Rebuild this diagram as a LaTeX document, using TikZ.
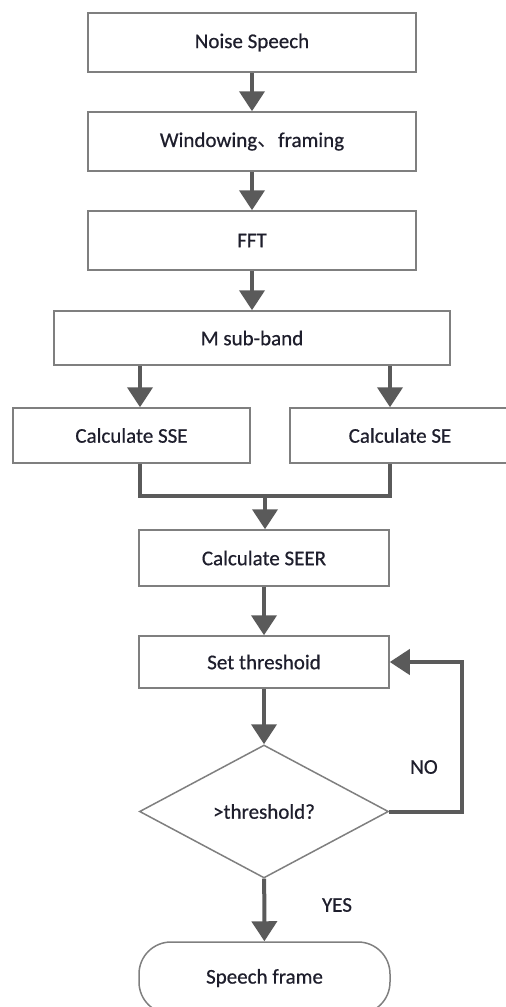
\documentclass[tikz,border=0pt]{standalone}
\usepackage{fontspec}
\setmainfont{Carlito}[FakeBold=0.6]
\newfontfamily\cjk{Noto Sans CJK SC}
\usetikzlibrary{arrows.meta,shapes.geometric}
\definecolor{ln}{HTML}{5A5A5A}
\definecolor{bd}{HTML}{7F7F7F}
\definecolor{tx}{HTML}{1E1E2C}
\begin{document}
\begin{tikzpicture}[x=1pt,y=-1pt,
  box/.style={draw=bd,line width=1.5pt,inner sep=0pt,font=\fontsize{21}{24}\selectfont,text=tx},
  lbl/.style={inner sep=0pt,font=\fontsize{21}{24}\selectfont,text=tx},
  conn/.style={draw=ln,line width=4pt},
  arr/.style={conn,-{Triangle[width=25pt,length=20pt]}}]
\useasboundingbox (0,0) rectangle (506,1007);
\node[box,minimum width=328pt,minimum height=59pt] (n1) at (252,42.5) {Noise Speech};
\node[box,minimum width=328pt,minimum height=59pt] (n2) at (252,141.5) {Windowing{\cjk 、}framing};
\node[box,minimum width=328pt,minimum height=59pt] (n3) at (252,240.5) {FFT};
\node[box,minimum width=396pt,minimum height=54pt] (n4) at (252,338) {M sub-band};
\node[box,minimum width=237pt,minimum height=55pt] (sse) at (131.5,435.5) {Calculate SSE};
\node[box,minimum width=220pt,minimum height=55pt] (se) at (400,435.5) {Calculate SE};
\node[box,minimum width=250pt,minimum height=56pt] (seer) at (264,558) {Calculate SEER};
\node[box,minimum width=250pt,minimum height=52pt] (thr) at (264,662) {Set threshoid};
\node[box,shape=diamond,minimum width=249pt,minimum height=133pt] (dia) at (264,811.5) {>threshold?};
\node[box,rounded corners=32pt,minimum width=251pt,minimum height=72pt] (term) at (264.5,978) {Speech frame};
\node[lbl] (no) at (424,767) {NO};
\node[lbl] (yes) at (337,905) {YES};
\coordinate (cL) at (140,0);
\coordinate (cR) at (390,0);
\coordinate (cM) at (265,0);
\coordinate (cJ) at (0,496);
\coordinate (cLoop) at (462,0);
\draw[arr] (n1) -- (n2);
\draw[arr] (n2) -- (n3);
\draw[arr] (n3) -- (n4);
\draw[arr] (n4.south -| cL) -- (sse.north -| cL);
\draw[arr] (n4.south -| cR) -- (se.north -| cR);
\draw[conn] (sse.south -| cL) -- (cL |- cJ) -- (cR |- cJ) -- (se.south -| cR);
\draw[arr] (cM |- cJ) -- (seer.north -| cM);
\draw[arr] (seer) -- (thr);
\draw[arr] (thr) -- (dia);
\draw[arr] (dia) -- (term);
\draw[arr] (dia.east) -- (dia.east -| cLoop) -- (thr.east -| cLoop) -- (thr.east);
\end{tikzpicture}
\end{document}
